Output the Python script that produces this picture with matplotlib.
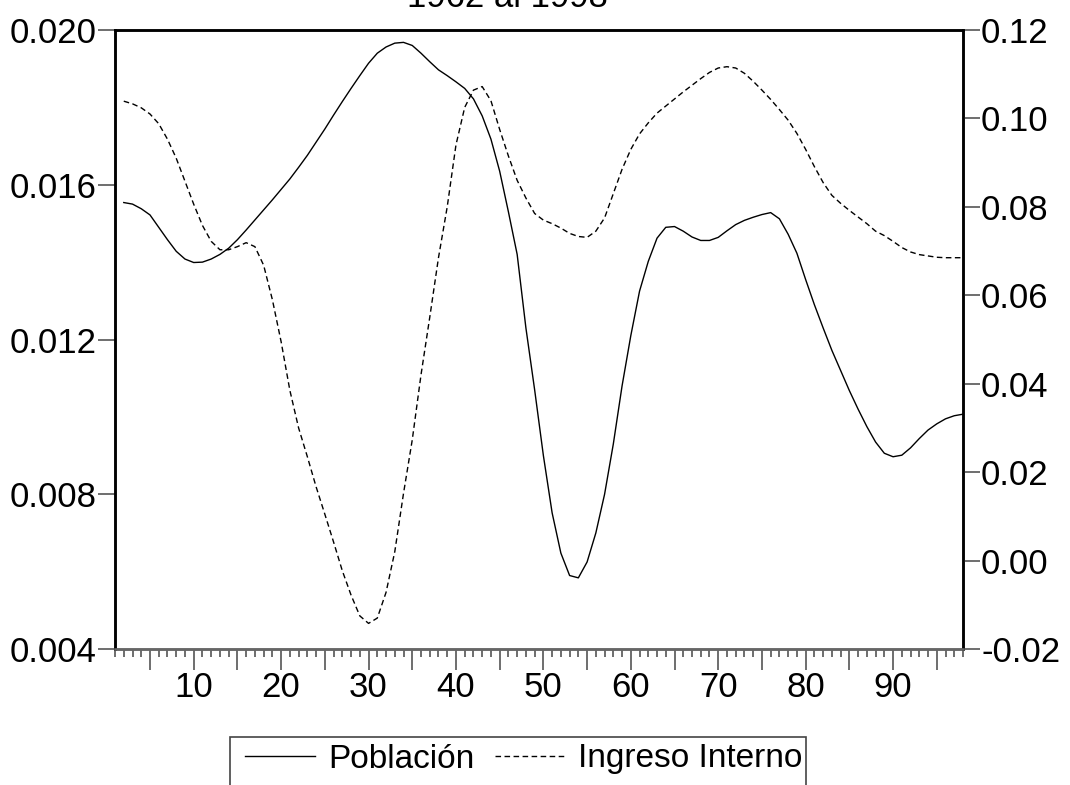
import numpy as np
import matplotlib
matplotlib.use("Agg")
import matplotlib.pyplot as plt
from matplotlib.ticker import MultipleLocator, FuncFormatter
from matplotlib.patches import Rectangle

#----------------------------------------------------------#
# Datos (observaciones 2..98)

obs = list(range(2, 99))

poblacion = [
    0.01554, 0.01550, 0.01538, 0.01522, 0.01490, 0.01458, 0.01428, 0.01408, 0.01399,
    0.01400, 0.01408, 0.01420, 0.01436, 0.01458, 0.01483, 0.01509, 0.01535, 0.01561,
    0.01588, 0.01615, 0.01645, 0.01676, 0.01710, 0.01744, 0.01780, 0.01815, 0.01849,
    0.01882, 0.01914, 0.01940, 0.01956, 0.01966, 0.01968, 0.01960, 0.01940, 0.01918,
    0.01897, 0.01882, 0.01866, 0.01849, 0.01822, 0.01778, 0.01718, 0.01635, 0.01530,
    0.01420, 0.01230, 0.01070, 0.00900, 0.00752, 0.00648, 0.00590, 0.00584, 0.00625,
    0.00700, 0.00800, 0.00930, 0.01080, 0.01210, 0.01325, 0.01402, 0.01462, 0.01490,
    0.01492, 0.01480, 0.01465, 0.01456, 0.01456, 0.01464, 0.01481, 0.01497, 0.01508,
    0.01516, 0.01523, 0.01528, 0.01512, 0.01472, 0.01423, 0.01355, 0.01290, 0.01230,
    0.01172, 0.01120, 0.01068, 0.01020, 0.00975, 0.00935, 0.00906, 0.00897, 0.00901,
    0.00920, 0.00944, 0.00966, 0.00982, 0.00995, 0.01003, 0.01007]

ingreso = [
    0.1039, 0.1033, 0.1024, 0.1010, 0.0988, 0.0953, 0.0910, 0.0858, 0.0806,
    0.0758, 0.0722, 0.0703, 0.0703, 0.0710, 0.0719, 0.0710, 0.0668, 0.0590,
    0.0495, 0.0385, 0.0300, 0.0235, 0.0167, 0.0105, 0.0042, -0.0023, -0.0078,
    -0.0125, -0.0142, -0.0130, -0.0072, 0.0020, 0.0152, 0.0273, 0.0420, 0.0550,
    0.0685, 0.0800, 0.0940, 0.1025, 0.1064, 0.1072, 0.1040, 0.0975, 0.0915,
    0.0860, 0.0820, 0.0785, 0.0770, 0.0762, 0.0752, 0.0740, 0.0733, 0.0731,
    0.0745, 0.0775, 0.0830, 0.0885, 0.0930, 0.0965, 0.0990, 0.1012, 0.1028,
    0.1044, 0.1060, 0.1075, 0.1090, 0.1104, 0.1114, 0.1117, 0.1114, 0.1102,
    0.1084, 0.1064, 0.1043, 0.1020, 0.0996, 0.0966, 0.0930, 0.0891, 0.0855,
    0.0826, 0.0808, 0.0792, 0.0777, 0.0762, 0.0745, 0.0735, 0.0722, 0.0708,
    0.0698, 0.0692, 0.0689, 0.0686, 0.0685, 0.0685, 0.0685]

left_ticks = [0.004, 0.008, 0.012, 0.016, 0.020]
right_ticks = [-0.02, 0.00, 0.02, 0.04, 0.06, 0.08, 0.10, 0.12]

#----------------------------------------------------------#
# Grafico

plt.rcParams['font.family'] = ['Liberation Sans', 'DejaVu Sans']
fs = 25
tick_col = '#555555'
W, H = 1070.0, 785.0

fig = plt.figure(figsize=(10.7, 7.85), dpi=100)
ax = fig.add_axes([0.1075, 0.1732, 0.7925, 0.7886])
ax2 = ax.twinx()

l1, = ax.plot(obs, poblacion, color='black', lw=1.0)
l2, = ax2.plot(obs, ingreso, color='black', lw=1.0, dashes=(4, 2.5))

ax.set_xlim(1, 98)
ax.set_ylim(0.004, 0.020)
ax2.set_ylim(-0.02, 0.12)
ax.set_yticks(left_ticks)
ax2.set_yticks(right_ticks)
ax.yaxis.set_major_formatter(FuncFormatter(lambda v, p: '%.3f' % v))
ax2.yaxis.set_major_formatter(FuncFormatter(lambda v, p: '%.2f' % v))

ax.xaxis.set_major_locator(MultipleLocator(5))
ax.xaxis.set_minor_locator(MultipleLocator(1))
ax.xaxis.set_major_formatter(FuncFormatter(
    lambda v, p: '%d' % v if (int(round(v)) % 10 == 0 and 0 < v < 98) else ''))

ax.tick_params(axis='x', which='major', direction='out', length=15, width=1.2,
               color=tick_col, labelsize=fs, pad=1)
ax.tick_params(axis='x', which='minor', direction='out', length=6, width=1.2,
               color=tick_col)
ax.tick_params(axis='y', direction='out', length=12, width=1.2, color=tick_col,
               labelsize=fs, pad=1)
ax2.tick_params(axis='y', direction='out', length=12, width=1.2, color=tick_col,
                labelsize=fs, pad=1)

for a in (ax, ax2):
    for s in a.spines.values():
        s.set_linewidth(1.8)
        s.set_color('black')
    a.spines['bottom'].set_color('#666666')

# titulo (cortado arriba como en el original)
fig.text(0.474, 0.9905, '1962 al 1998', fontsize=fs, ha='center', va='baseline')

# leyenda sin marco + marco dibujado a mano
leg = fig.legend([l1, l2], ['Población', 'Ingreso Interno'], loc='center left',
                 bbox_to_anchor=(245 / W, 1 - 759 / H), ncol=2, fontsize=24,
                 frameon=False, borderpad=0, borderaxespad=0,
                 handlelength=2.1, handletextpad=0.4, columnspacing=0.6)
fig.patches.append(Rectangle((230 / W, -0.05), (806 - 230) / W, 0.05 + 1 - 737 / H,
                             transform=fig.transFigure, fill=False,
                             edgecolor='#444444', lw=1.2))

fig.savefig('out.png', dpi=100)
